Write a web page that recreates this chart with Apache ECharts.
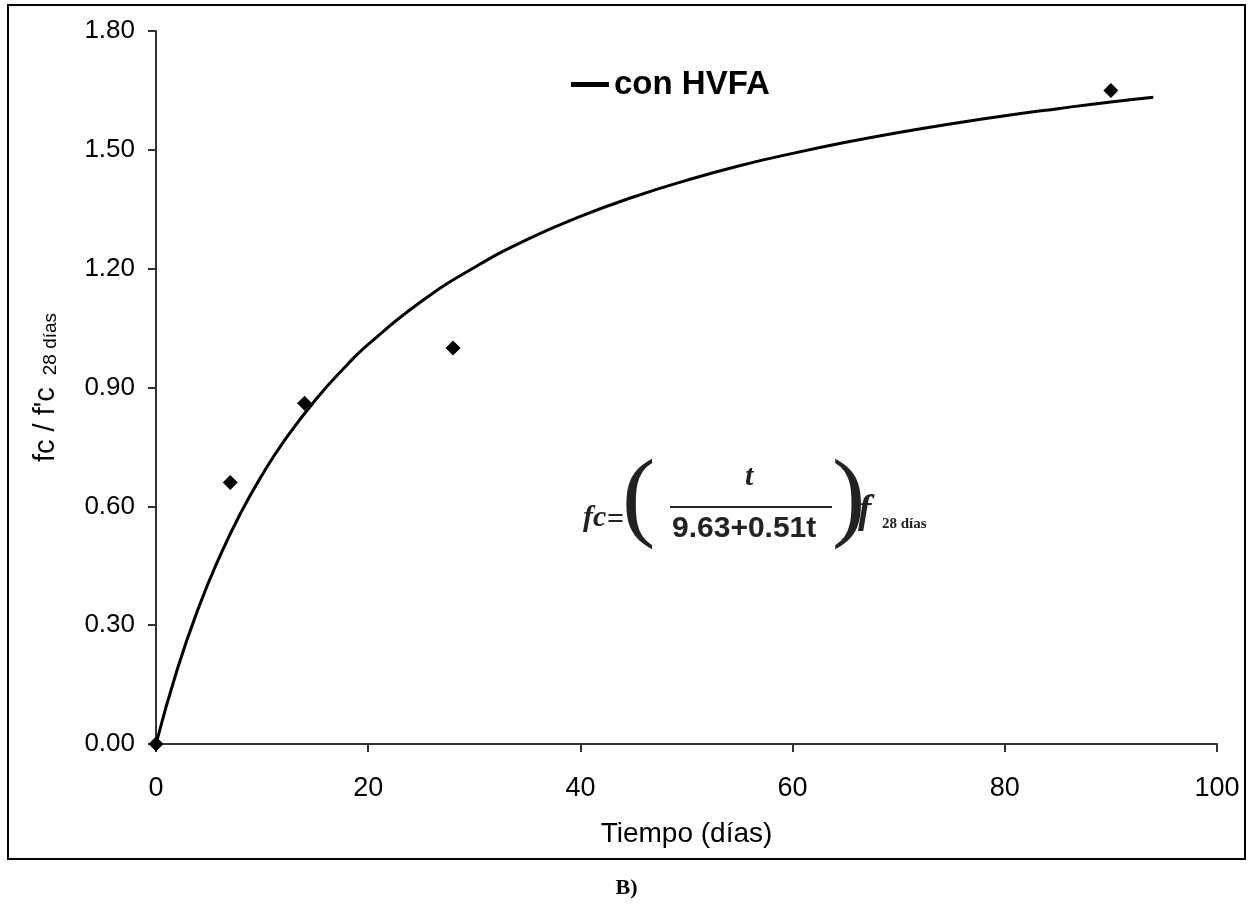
<!DOCTYPE html>
<html>
<head>
<meta charset="utf-8">
<script src="https://cdn.jsdelivr.net/npm/echarts@6/dist/echarts.min.js"></script>
<style>
  html, body { margin: 0; padding: 0; background: #fff; }
  #main { width: 1253px; height: 909px; }
</style>
</head>
<body>
<div id="main"></div>
<script>
// puntos medidos
const tiempoDatos = [0, 7, 14, 28, 90]
const fcDatos = [0, 0.66, 0.86, 1.0, 1.65]

// curva ajustada
const tiempoCurva = [0, 2, 4, 6, 8, 10, 12, 15, 18, 20, 25, 30, 35, 40, 45, 50, 55, 60, 65, 70, 75, 80, 85, 90, 94]
const fcCurva = [0, 0.188, 0.343, 0.473, 0.584, 0.679, 0.762, 0.868, 0.957, 1.009, 1.117, 1.203, 1.274, 1.332, 1.381, 1.423, 1.46, 1.491, 1.519, 1.544, 1.566, 1.586, 1.604, 1.621, 1.633]

const yTicks = [0, 0.3, 0.6, 0.9, 1.2, 1.5, 1.8]

const chart = echarts.init(document.getElementById('main'))

const eqFont = 'bold 30px "Liberation Serif", serif'
const sans = 'Liberation Sans, Arial'

chart.setOption({
  animation: false,
  grid: { left: 156, right: 36, top: 31, bottom: 165 },
  legend: {
    data: ['con HVFA'],
    left: 566,
    top: 63,
    icon: 'rect',
    itemWidth: 38,
    itemHeight: 5,
    itemGap: 4,
    textStyle: { fontFamily: sans, fontWeight: 'bold', fontSize: 33, color: '#000' }
  },
  xAxis: {
    type: 'value',
    min: 0,
    max: 100,
    interval: 20,
    name: 'Tiempo (días)',
    nameLocation: 'middle',
    nameGap: 76,
    nameMoveOverlap: false,
    nameTextStyle: { fontFamily: sans, fontSize: 28, color: '#000' },
    axisLine: { show: true, lineStyle: { color: '#333', width: 2 } },
    axisTick: { show: true, length: 8, lineStyle: { color: '#333', width: 2 } },
    axisLabel: { fontFamily: sans, fontSize: 27, color: '#000', margin: 31 },
    splitLine: { show: false }
  },
  yAxis: {
    type: 'value',
    min: 0,
    max: 1.8,
    interval: 0.3,
    name: '{m|fc / f\'c }{s|28 días}',
    nameLocation: 'middle',
    nameRotate: 90,
    nameGap: 96,
    nameMoveOverlap: false,
    nameTextStyle: {
      rich: {
        m: { fontFamily: sans, fontSize: 29, color: '#000', verticalAlign: 'bottom' },
        s: { fontFamily: sans, fontSize: 19, color: '#000', padding: [8, 0, 0, 4], verticalAlign: 'bottom' }
      }
    },
    axisLine: { show: true, lineStyle: { color: '#333', width: 2 } },
    axisTick: { show: true, length: 8, lineStyle: { color: '#333', width: 2 } },
    axisLabel: {
      fontFamily: sans, fontSize: 26, color: '#000', margin: 21,
      formatter: v => yTicks.some(t => Math.abs(t - v) < 1e-6) ? v.toFixed(2) : ''
    },
    splitLine: { show: false }
  },
  series: [
    {
      name: 'con HVFA',
      type: 'line',
      smooth: true,
      showSymbol: false,
      itemStyle: { color: '#000' },
      lineStyle: { color: '#000', width: 3 },
      data: tiempoCurva.map((t, i) => [t, fcCurva[i]]),
      z: 2
    },
    {
      name: 'datos',
      type: 'scatter',
      symbol: 'diamond',
      symbolSize: 15,
      itemStyle: { color: '#000', opacity: 1 },
      data: tiempoDatos.map((t, i) => [t, fcDatos[i]]),
      z: 3
    }
  ],
  graphic: [
    // marco exterior
    { type: 'rect', shape: { x: 8, y: 5, width: 1237, height: 854 }, style: { fill: 'none', stroke: '#000', lineWidth: 2 } },
    // ecuacion
    { type: 'text', x: 583, y: 503, style: { text: 'fc', font: 'italic ' + eqFont, fill: '#222' } },
    { type: 'text', x: 607, y: 505, style: { text: '=', font: eqFont, fill: '#222' } },
    { type: 'text', x: 622, y: 452, style: { text: '(', font: '100 100px "Liberation Serif", serif', fill: '#222' } },
    { type: 'text', x: 745, y: 462, style: { text: 't', font: 'italic ' + eqFont, fill: '#222' } },
    { type: 'line', shape: { x1: 670, y1: 507, x2: 832, y2: 507 }, style: { stroke: '#222', lineWidth: 2 } },
    { type: 'text', x: 672, y: 514, style: { text: '9.63+0.51t', font: 'bold 30px "Liberation Sans Narrow", "Liberation Sans", sans-serif', fill: '#222' } },
    { type: 'text', x: 832, y: 452, style: { text: ')', font: '100 100px "Liberation Serif", serif', fill: '#222' } },
    { type: 'text', x: 858, y: 492, style: { text: 'f', font: 'italic bold 40px "Liberation Serif", serif', fill: '#222' } },
    { type: 'text', x: 882, y: 517, style: { text: '28 días', font: 'bold 15px "Liberation Serif", serif', fill: '#222' } },
    // etiqueta del panel
    { type: 'text', left: 'center', top: 877, style: { text: 'B)', font: 'bold 22px "Liberation Serif", serif', fill: '#000' } }
  ]
})
</script>
</body>
</html>
